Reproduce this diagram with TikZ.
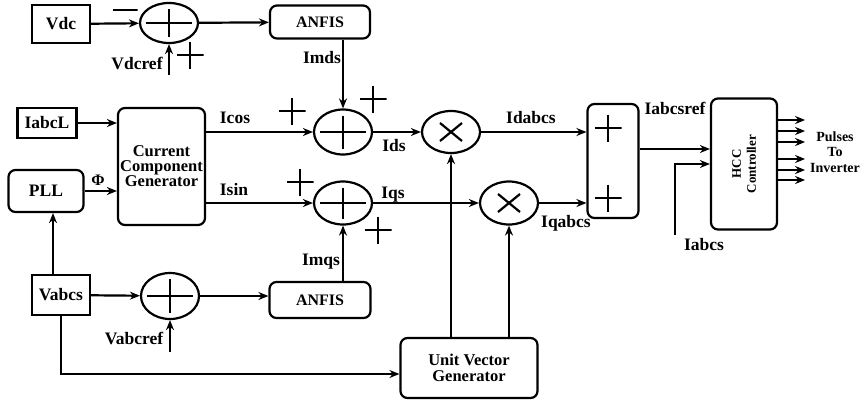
\documentclass[tikz,border=0pt]{standalone}
\usepackage{fontspec}
\setmainfont{Liberation Serif}
\usetikzlibrary{arrows.meta,shapes.geometric}

\newcommand\lblfont{\bfseries\fontsize{17.5}{17}\selectfont}
\newcommand\midfont{\bfseries\fontsize{16}{16}\selectfont}
\newcommand\smlfont{\bfseries\fontsize{13}{15}\selectfont}

\begin{document}
\begin{tikzpicture}[x=1pt,y=-1pt,line width=2.2pt,>={Stealth[length=10pt,width=8pt]},
  font=\lblfont,
  blk/.style={draw,inner sep=2pt},
  rblk/.style={draw,rounded corners=7pt,inner sep=2pt},
  sumj/.style={draw,ellipse,inner sep=0pt,minimum width=58pt,minimum height=43pt,
    path picture={\draw ([xshift=6pt]path picture bounding box.west) -- ([xshift=-6pt]path picture bounding box.east)
      ([yshift=-6pt]path picture bounding box.north) -- ([yshift=6pt]path picture bounding box.south);}},
  mulj/.style={draw,ellipse,inner sep=0pt,minimum width=58pt,minimum height=42pt,
    path picture={\draw (path picture bounding box.center) +(-11,-9) -- +(11,9) +(-11,9) -- +(11,-9);}},
  sgnplus/.style={inner sep=0pt,minimum size=27pt,
    path picture={\draw (path picture bounding box.west) -- (path picture bounding box.east)
      (path picture bounding box.north) -- (path picture bounding box.south);}},
  sgnminus/.style={inner sep=0pt,minimum width=25pt,minimum height=4pt,
    path picture={\draw (path picture bounding box.west) -- (path picture bounding box.east);}},
  lbl/.style={inner sep=1pt}]
  \useasboundingbox (0,0) rectangle (864,402);

  % blocks
  \node[blk,minimum width=58pt,minimum height=38pt] (vdc) at (61,24) {Vdc};
  \node[sumj,minimum height=40pt] (sum1) at (169,23) {};
  \node[rblk,minimum width=100pt,minimum height=33pt,font=\midfont] (anfisa) at (320,22) {ANFIS};
  \node[blk,minimum width=59pt,minimum height=30pt] (iabcl) at (47,123) {IabcL};
  \node[rblk,minimum width=87pt,minimum height=117pt,align=center,font=\bfseries\fontsize{16.5}{15}\selectfont] (ccg) at (161.5,166.5) {Current\\Component\\Generator};
  \node[sumj,minimum height=45pt] (sum2) at (343,132) {};
  \node[sumj] (sum3) at (343,203) {};
  \node[rblk,minimum width=75pt,minimum height=42pt] (pll) at (46,191) {PLL};
  \node[blk,minimum width=58pt,minimum height=40pt] (vabcs) at (61,295) {Vabcs};
  \node[sumj,minimum width=58pt,minimum height=46pt] (sum4) at (170,296) {};
  \node[rblk,minimum width=101pt,minimum height=36pt,font=\midfont] (anfisb) at (320,300) {ANFIS};
  \node[rblk,minimum width=137pt,minimum height=60pt,align=center,font=\bfseries\fontsize{16.5}{16}\selectfont] (uvg) at (469,368) {Unit Vector\\Generator};
  \node[mulj] (mult1) at (451,132) {};
  \node[mulj,minimum height=43pt] (mult2) at (509,203) {};
  \node[rblk,minimum width=51pt,minimum height=114pt] (addbox) at (613,161) {};
  \node[rblk,minimum width=66pt,minimum height=131pt] (hcc) at (744,164) {};
  \node[rotate=90,align=center,font=\smlfont] (hcctxt) at (hcc.center) {HCC\\Controller};

  % signs
  \node[sgnminus] (m1) at (125,10) {};
  \node[sgnplus] (p1) at (190,55) {};
  \node[sgnplus] (p2) at (292,111) {};
  \node[sgnplus] (p3) at (373,99) {};
  \node[sgnplus] (p4) at (300,182) {};
  \node[sgnplus] (p5) at (378,230) {};
  \node[sgnplus] (p6) at (608,128) {};
  \node[sgnplus] (p7) at (608,198) {};

  % free ends
  \coordinate (vdcref) at (169,75);
  \coordinate (vabcref) at (170,352);
  \coordinate (iabcsin) at (675,235);
  \coordinate (iref) at ([yshift=12pt]addbox.east);

  % connectors
  \draw[->] (vdc) -- (sum1);
  \draw[->] (sum1.south |- vdcref) -- (sum1.south);
  \draw[->] (sum1) -- (anfisa);
  \draw[->] (sum2.north |- anfisa.south) -- (sum2.north);
  \draw[->] (iabcl) -- (iabcl -| ccg.west);
  \draw[->] (pll) -- (pll -| ccg.west);
  \draw[->] (ccg.east |- sum2) -- (sum2);
  \draw[->] (ccg.east |- sum3) -- (sum3);
  \draw[->] (sum2) -- (mult1);
  \draw[->] (sum3) -- (mult2);
  \draw[->] (mult1) -- (mult1 -| addbox.west);
  \draw[->] (mult2) -- (mult2 -| addbox.west);
  \draw[->] (iref) -- (iref -| hcc.west);
  \draw[->] (iabcsin) |- (hcc.west);
  \foreach \yy in {120,131,142,159,170,180}
    \draw[->] (hcc.east |- 0,\yy) -- ++(27,0);
  \draw[->] ([xshift=-8pt]vabcs.north) -- ([xshift=-8pt]vabcs.north |- pll.south);
  \draw[->] (vabcs) -- (sum4);
  \draw[->] (sum4.south |- vabcref) -- (sum4.south);
  \draw[->] (sum4) -- (sum4 -| anfisb.west);
  \draw[->] (sum3.south |- anfisb.north) -- (sum3.south);
  \draw[->] (vabcs.south) |- ([yshift=-6pt]uvg.west);
  \draw[->] (mult1.south |- uvg.north) -- (mult1.south);
  \draw[->] (mult2.south |- uvg.north) -- (mult2.south);

  % labels
  \node[lbl] (tvdcref) at (137,63) {Vdcref};
  \node[lbl] (timds) at (322,58) {Imds};
  \node[lbl] (ticos) at (235,118) {Icos};
  \node[lbl] (tisin) at (234,190) {Isin};
  \node[lbl] (tids) at (394,146) {Ids};
  \node[lbl] (tiqs) at (393,195) {Iqs};
  \node[lbl] (timqs) at (321,262) {Imqs};
  \node[lbl,font=\midfont] (tphi) at (98,180) {Φ};
  \node[lbl] (tvabcref) at (134,338) {Vabcref};
  \node[lbl] (tidabcs) at (531,118) {Idabcs};
  \node[lbl] (tiqabcs) at (566,223) {Iqabcs};
  \node[lbl] (tiref) at (675,108) {Iabcsref};
  \node[lbl] (tiabcs) at (704,245) {Iabcs};
  \node[lbl,align=center,font=\bfseries\fontsize{14}{15.5}\selectfont] (tpulses) at (835,152) {Pulses\\To\\Inverter};
\end{tikzpicture}
\end{document}
